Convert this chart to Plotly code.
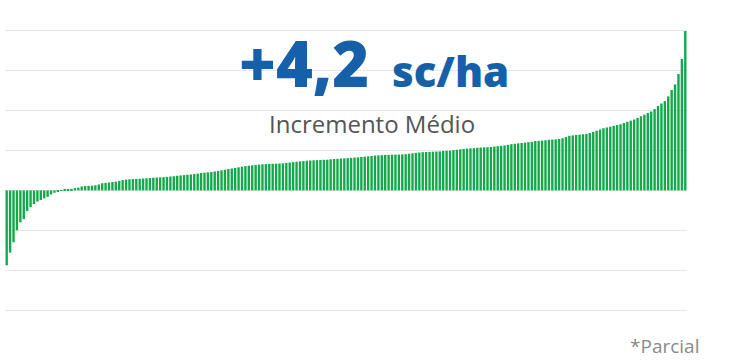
import plotly.graph_objects as go

# Sorted yield increment per area (sc/ha)
values = [
    -9.4, -7.8, -6.5, -5.0, -4.0, -3.6, -2.6, -2.1, -1.7, -1.4,
    -1.2, -1.0, -0.8, -0.5, -0.3, -0.1, 0.05, 0.1, 0.15, 0.2,
    0.3, 0.35, 0.5, 0.55, 0.58, 0.6, 0.65, 0.75, 0.9, 0.95,
    1.0, 1.05, 1.1, 1.2, 1.3, 1.36, 1.4, 1.42, 1.44, 1.47,
    1.5, 1.52, 1.56, 1.6, 1.62, 1.64, 1.67, 1.7, 1.74, 1.78,
    1.84, 1.88, 1.92, 1.96, 2.0, 2.06, 2.12, 2.18, 2.22, 2.27,
    2.32, 2.38, 2.45, 2.52, 2.6, 2.68, 2.75, 2.82, 2.9, 2.98,
    3.05, 3.1, 3.15, 3.2, 3.24, 3.27, 3.3, 3.32, 3.34, 3.36,
    3.38, 3.4, 3.45, 3.5, 3.55, 3.6, 3.65, 3.68, 3.72, 3.75,
    3.78, 3.8, 3.82, 3.84, 3.86, 3.9, 3.94, 3.97, 4.0, 4.02,
    4.05, 4.08, 4.12, 4.15, 4.2, 4.24, 4.28, 4.32, 4.38, 4.4,
    4.42, 4.45, 4.46, 4.48, 4.5, 4.5, 4.52, 4.55, 4.6, 4.65,
    4.7, 4.75, 4.8, 4.82, 4.84, 4.86, 4.88, 4.9, 4.95, 4.98,
    5.0, 5.05, 5.1, 5.15, 5.2, 5.25, 5.28, 5.3, 5.35, 5.38,
    5.4, 5.42, 5.45, 5.5, 5.55, 5.6, 5.65, 5.72, 5.8, 5.85,
    5.9, 5.95, 6.0, 6.05, 6.1, 6.2, 6.22, 6.25, 6.3, 6.35,
    6.38, 6.4, 6.45, 6.55, 6.7, 6.85, 6.9, 6.95, 7.0, 7.05,
    7.1, 7.2, 7.35, 7.5, 7.65, 7.8, 7.9, 8.0, 8.1, 8.2,
    8.3, 8.45, 8.6, 8.75, 8.9, 9.1, 9.3, 9.5, 9.7, 9.9,
    10.2, 10.6, 10.9, 11.2, 11.8, 12.6, 13.3, 14.6, 16.5, 20.0,
]
categories = list(range(1, len(values) + 1))

headline_value = "+4,2"
headline_unit = "sc/ha"
subtitle = "Incremento Médio"
footnote = "*Parcial"

W, H = 734, 361
L, R, T, B = 5, 47, 27, 47
PW, PH = W - L - R, H - T - B


def px(x):
    return (x - L) / PW


def py(y):
    return (H - B - y) / PH


fig = go.Figure(
    go.Bar(
        x=categories,
        y=values,
        marker=dict(color="#13a84a", line=dict(width=0)),
        hoverinfo="skip",
    )
)

fig.update_layout(
    width=W,
    height=H,
    margin=dict(l=L, r=R, t=T, b=B),
    paper_bgcolor="white",
    plot_bgcolor="white",
    bargap=0.3,
    showlegend=False,
    xaxis=dict(
        range=[0.5, len(values) + 0.5],
        showgrid=False,
        showticklabels=False,
        zeroline=False,
        showline=False,
        ticks="",
    ),
    yaxis=dict(
        range=[-15.5, 20.5],
        dtick=5,
        tick0=0,
        showgrid=True,
        gridcolor="#e8e8e8",
        gridwidth=1,
        showticklabels=False,
        zeroline=False,
        showline=False,
        ticks="",
    ),
    annotations=[
        dict(
            text=headline_value,
            x=px(304), y=py(63), xref="paper", yref="paper",
            xanchor="center", yanchor="middle", showarrow=False,
            font=dict(family="Open Sans", size=63, color="#1660aa", weight=800),
        ),
        dict(
            text=headline_unit,
            x=px(450), y=py(71), xref="paper", yref="paper",
            xanchor="center", yanchor="middle", showarrow=False,
            font=dict(family="Open Sans", size=42, color="#1660aa", weight=800),
        ),
        dict(
            text=subtitle,
            x=px(372), y=py(123), xref="paper", yref="paper",
            xanchor="center", yanchor="middle", showarrow=False,
            font=dict(family="Open Sans", size=24, color="#555555"),
        ),
        dict(
            text=footnote,
            x=px(664), y=py(346), xref="paper", yref="paper",
            xanchor="center", yanchor="middle", showarrow=False,
            font=dict(family="Open Sans", size=19, color="#8a8a8a"),
        ),
    ],
)

fig.write_html("out.html")
